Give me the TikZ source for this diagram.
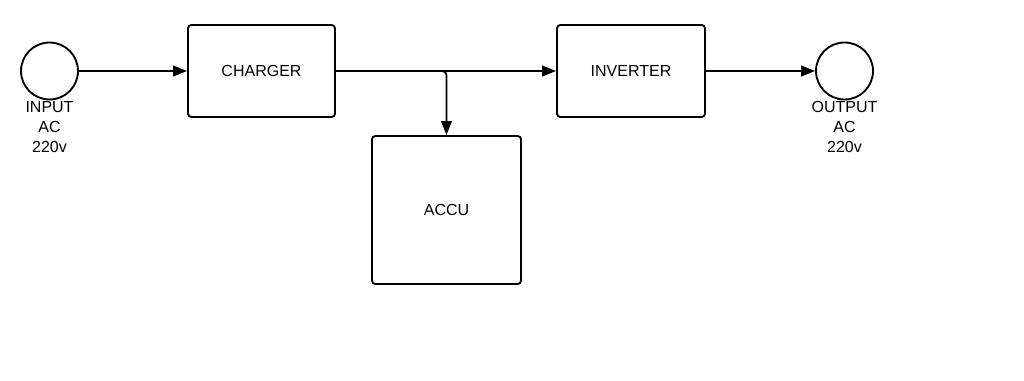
\documentclass[tikz,border=0pt]{standalone}
\usepackage{fontspec}
\setmainfont{Liberation Sans}
\usetikzlibrary{arrows.meta}

\begin{document}
\begin{tikzpicture}[x=0.75pt,y=-0.75pt,line width=1.4pt,
    block/.style={draw, rounded corners=2.5pt, inner sep=0pt},
    port/.style={draw, circle, minimum size=42.75pt, inner sep=0pt},
    caption/.style={align=center, inner sep=0pt, anchor=north},
    flow/.style={-{Triangle[length=10.5pt,width=8pt]}},
    every node/.style={font=\fontsize{12}{15}\selectfont}]
    \useasboundingbox (0,0) rectangle (1024,381);
    % blocks
    \node[port] (in) at (49.5,71) {};
    \node[caption] (inlbl) at (in.south) {INPUT\\AC\\220v};
    \node[block, minimum width=110.25pt, minimum height=69pt] (charger) at (261.5,71) {CHARGER};
    \node[block, minimum width=111pt, minimum height=69pt] (inverter) at (631,71) {INVERTER};
    \node[block, minimum width=111.75pt, minimum height=111pt] (accu) at (446.5,210) {ACCU};
    \node[port] (out) at (844.5,71) {};
    \node[caption] (outlbl) at (out.south) {OUTPUT\\AC\\220v};
    % connections
    \draw[flow] (in) -- (charger);
    \draw[flow] (charger.east) -- (inverter.west);
    \draw[flow, rounded corners=3pt] (charger.east) -| (accu.north);
    \draw[flow] (inverter) -- (out);
\end{tikzpicture}
\end{document}
